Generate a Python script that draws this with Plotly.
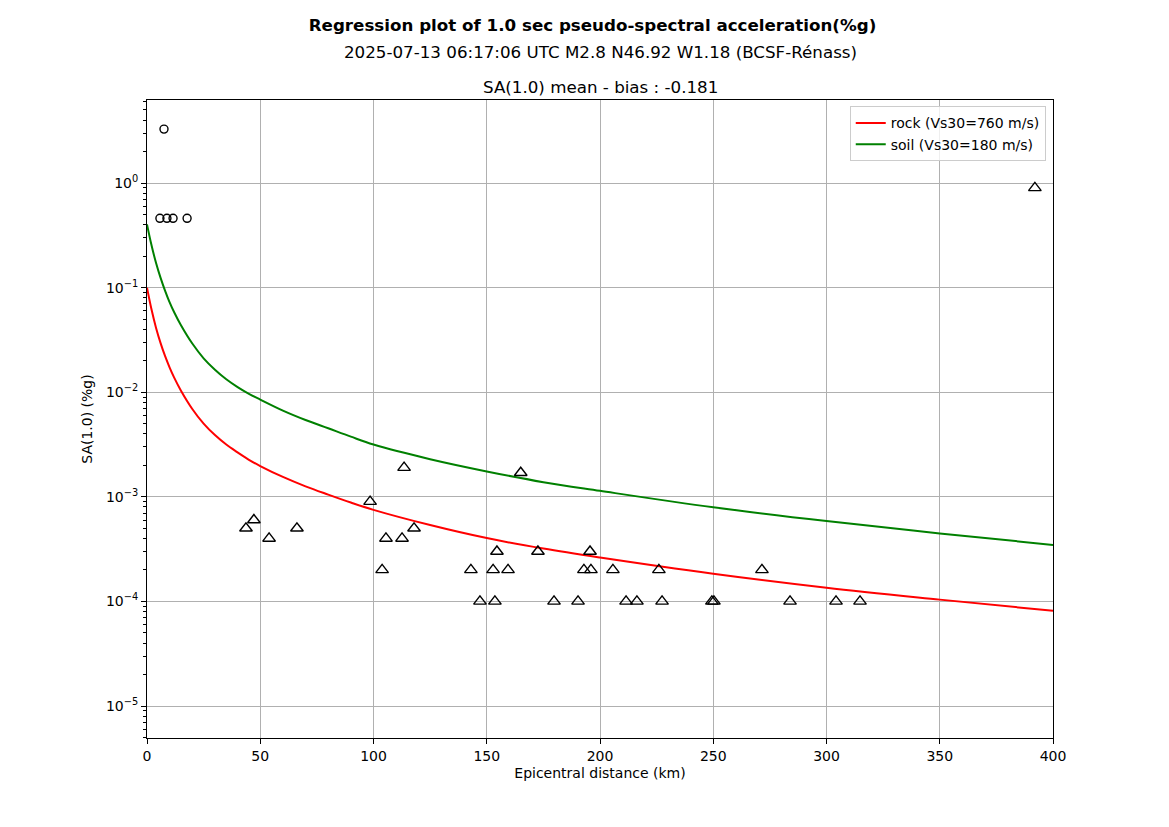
import plotly.graph_objects as go

# near-field stations (circles)
near_dist = [7.5, 5.7, 8.8, 11.5, 17.7]
near_sa = [3.28, 0.46, 0.46, 0.46, 0.46]

# other stations (triangles)
far_dist = [43.7, 47.2, 53.9, 66.2, 98.5, 103.8, 105.5, 112.6, 113.5, 117.9,
            143.0, 147.0, 152.8, 153.6, 154.5, 159.4, 165.0, 172.6, 179.7, 190.3,
            192.9, 195.6, 196.0, 205.7, 211.5, 216.3, 226.0, 227.4, 249.4, 250.3,
            271.5, 283.9, 304.2, 314.8, 392.0]
far_sa = [5e-4, 6e-4, 4e-4, 5e-4, 9e-4, 2e-4, 4e-4, 4e-4, 1.9e-3, 5e-4,
          2e-4, 1e-4, 2e-4, 1e-4, 3e-4, 2e-4, 1.7e-3, 3e-4, 1e-4, 1e-4,
          2e-4, 3e-4, 2e-4, 2e-4, 1e-4, 1e-4, 2e-4, 1e-4, 1e-4, 1e-4,
          2e-4, 1e-4, 1e-4, 1e-4, 0.9]

# GMPE curves
curve_dist = [0, 2, 4, 6, 8, 10, 12, 15, 20, 25, 30, 35, 40, 45, 50, 60, 70, 80, 90,
              100, 125, 150, 175, 200, 250, 300, 350, 400]
rock_sa = [0.1, 0.0617, 0.0412, 0.0295, 0.0221, 0.0172, 0.0138, 0.01035, 0.00692,
           0.00501, 0.00389, 0.00316, 0.00266, 0.00226, 0.00197, 0.00155, 0.00126,
           0.00105, 0.000881, 0.00075, 0.000537, 0.000403, 0.00032, 0.000263,
           0.000184, 0.000135, 0.000104, 0.0000813]
soil_sa = [0.403, 0.254, 0.172, 0.124, 0.0933, 0.0724, 0.0582, 0.0437, 0.0292,
           0.0211, 0.0164, 0.0133, 0.0112, 0.00966, 0.00851, 0.00668, 0.00543,
           0.00452, 0.00376, 0.00316, 0.00229, 0.00175, 0.00138, 0.00114,
           0.000794, 0.000586, 0.000447, 0.000347]

ytick_exp = [0, -1, -2, -3, -4, -5]

fig = go.Figure()

fig.add_trace(go.Scatter(
    x=curve_dist, y=rock_sa, mode='lines',
    line=dict(color='red', width=2, shape='spline', smoothing=1),
    name='rock (Vs30=760 m/s)'
))
fig.add_trace(go.Scatter(
    x=curve_dist, y=soil_sa, mode='lines',
    line=dict(color='green', width=2, shape='spline', smoothing=1),
    name='soil (Vs30=180 m/s)'
))
fig.add_trace(go.Scatter(
    x=near_dist, y=near_sa, mode='markers',
    marker=dict(symbol='circle-open', size=8, color='black', line=dict(width=1.4)),
    showlegend=False
))
fig.add_trace(go.Scatter(
    x=far_dist, y=far_sa, mode='markers',
    marker=dict(symbol='triangle-up-open', size=11, color='black', line=dict(width=1.4)),
    showlegend=False
))

minor_vals = [m * 10.0 ** e for e in range(-6, 1) for m in range(2, 10)]

fig.update_layout(
    width=1169, height=827,
    margin=dict(l=139, r=124, t=92, b=97),
    plot_bgcolor='white', paper_bgcolor='white',
    font=dict(family='DejaVu Sans', size=14, color='black'),
    title=dict(text='<b>Regression plot of 1.0 sec pseudo-spectral acceleration(%g)</b>',
               x=0.5, xanchor='center', y=1 - 17 / 827, yanchor='middle',
               font=dict(size=16.7)),
    legend=dict(x=0.992, y=0.99, xanchor='right', yanchor='top',
                bordercolor='#cccccc', borderwidth=1, bgcolor='rgba(255,255,255,0.8)',
                font=dict(size=14), tracegroupgap=0),
    annotations=[
        dict(text='2025-07-13 06:17:06 UTC M2.8 N46.92 W1.18 (BCSF-Rénass)',
             xref='paper', yref='paper', x=0.5, y=(737 - 51) / 638,
             xanchor='center', yanchor='middle', showarrow=False, font=dict(size=16.7)),
        dict(text='SA(1.0) mean - bias : -0.181',
             xref='paper', yref='paper', x=0.5, y=(737 - 86) / 638,
             xanchor='center', yanchor='middle', showarrow=False, font=dict(size=16.7)),
    ],
)

fig.update_xaxes(
    range=[0, 400], dtick=50, showgrid=True, gridcolor='#b0b0b0', gridwidth=1,
    zeroline=False, showline=True, linecolor='black', linewidth=1, mirror=True,
    ticks='outside', ticklen=5, tickcolor='black', tickfont=dict(size=14),
    title=dict(text='Epicentral distance (km)', font=dict(size=14), standoff=5),
)
fig.update_yaxes(
    type='log', range=[-5.306, 0.794],
    tickvals=[10.0 ** e for e in ytick_exp],
    ticktext=['10<sup>%d</sup>' % e if e == 0 else '10<sup>\u2212%d</sup>' % -e for e in ytick_exp],
    showgrid=True, gridcolor='#b0b0b0', gridwidth=1,
    zeroline=False, showline=True, linecolor='black', linewidth=1, mirror=True,
    ticks='outside', ticklen=5, tickcolor='black', tickfont=dict(size=14),
    minor=dict(tickmode='array', tickvals=minor_vals, ticks='outside', ticklen=3,
               tickcolor='black', showgrid=False),
    title=dict(text='SA(1.0) (%g)', font=dict(size=14), standoff=10),
)

fig.write_html("out.html")
